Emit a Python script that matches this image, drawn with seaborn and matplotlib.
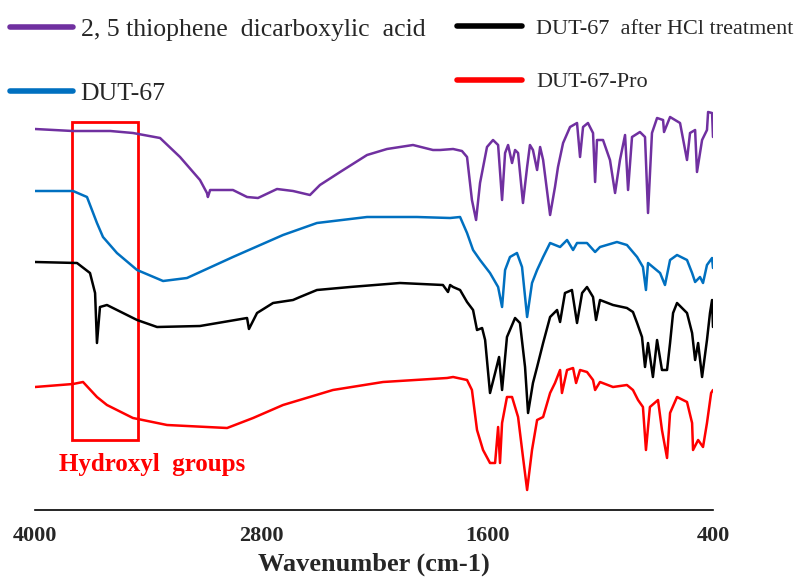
import matplotlib
matplotlib.use("Agg")
import matplotlib.pyplot as plt
from matplotlib.patches import Rectangle
import pandas as pd
import seaborn as sns

# FTIR spectra, wavenumber (cm-1) vs offset transmittance (a.u.)
thio_wn = [4000, 3900, 3800, 3600, 3480, 3336, 3230, 3124, 3087, 3082, 3070, 2949, 2874, 2816,
           2715, 2630, 2540, 2487, 2380, 2237, 2131, 1993, 1887, 1849, 1780, 1733, 1706, 1680,
           1658, 1637, 1600, 1568, 1541, 1520, 1504, 1488, 1467, 1451, 1435, 1409, 1387, 1372,
           1356, 1334, 1318, 1302, 1265, 1239, 1223, 1196, 1159, 1122, 1106, 1090, 1064, 1037,
           1026, 1016, 984, 947, 920, 894, 867, 851, 830, 788, 761, 745, 724, 697, 665, 660,
           628, 575, 538, 522, 495, 485, 458, 432, 426, 405, 400]
thio_t = [391, 390, 389, 389, 387, 382, 363, 340, 327, 323, 330, 330, 323, 322,
          331, 329, 325, 335, 348, 365, 371, 375, 370, 370, 371, 369, 363, 320,
          300, 337, 373, 380, 375, 320, 367, 375, 357, 370, 367, 317, 353, 375,
          370, 350, 373, 360, 305, 333, 353, 377, 393, 397, 363, 393, 397, 387,
          338, 380, 380, 360, 327, 360, 385, 330, 383, 388, 383, 307, 387, 402, 400, 388,
          403, 397, 360, 387, 390, 348, 380, 390, 408, 407, 383]

dut_wn = [4000, 3798, 3724, 3671, 3639, 3565, 3458, 3320, 3193, 2949, 2683, 2503, 2237, 1972,
          1796, 1743, 1706, 1674, 1637, 1584, 1541, 1520, 1504, 1478, 1441, 1414, 1387, 1361,
          1334, 1302, 1265, 1212, 1175, 1143, 1122, 1069, 1026, 1000, 910, 857, 803, 772, 756,
          745, 681, 655, 628, 591, 538, 511, 495, 469, 453, 432, 405, 400]
dut_t = [329, 329, 323, 297, 283, 267, 250, 239, 242, 263, 285, 297, 303, 303,
         302, 303, 287, 270, 260, 247, 233, 213, 250, 263, 267, 253, 203, 237,
         250, 263, 277, 273, 280, 270, 277, 277, 268, 273, 278, 275, 263, 253, 230,
         257, 247, 235, 260, 265, 260, 247, 238, 243, 237, 255, 262, 252]

hcl_wn = [4000, 3777, 3708, 3681, 3671, 3655, 3618, 3458, 3352, 3124, 2874, 2864, 2821, 2736,
          2630, 2593, 2503, 2327, 2062, 1834, 1807, 1796, 1780, 1743, 1706, 1674, 1653, 1626,
          1610, 1584, 1557, 1536, 1520, 1494, 1451, 1425, 1398, 1382, 1356, 1334, 1302, 1265,
          1228, 1212, 1186, 1149, 1122, 1095, 1069, 1037, 1021, 1000, 931, 857, 825, 803, 777,
          761, 745, 719, 697, 671, 644, 628, 612, 591, 538, 511, 495, 479, 458, 432, 416, 405, 400]
hcl_t = [258, 257, 247, 227, 177, 213, 215, 200, 193, 194, 202, 191, 207, 217,
         220, 223, 230, 233, 237, 235, 228, 235, 233, 230, 218, 210, 190, 192,
         180, 127, 147, 163, 130, 183, 202, 197, 153, 107, 137, 153, 177, 203,
         210, 198, 227, 230, 197, 227, 233, 223, 200, 220, 215, 212, 208, 197, 183,
         153, 177, 143, 180, 150, 150, 177, 207, 217, 207, 187, 160, 177, 143, 180, 207, 220, 193]

pro_wn = [4000, 3798, 3745, 3671, 3618, 3480, 3299, 2980, 2842, 2683, 2418, 2152, 1812, 1780,
          1706, 1680, 1653, 1621, 1584, 1557, 1541, 1531, 1520, 1494, 1467, 1435, 1409, 1387,
          1361, 1334, 1302, 1265, 1239, 1212, 1202, 1175, 1143, 1127, 1106, 1069, 1037, 1026,
          1000, 931, 857, 825, 798, 772, 756, 735, 692, 671, 644, 628, 591, 538, 511, 506,
          479, 453, 432, 410, 400]
pro_t = [133, 136, 138, 123, 115, 102, 95, 92, 102, 115, 130, 138, 142, 143,
         140, 130, 90, 70, 57, 57, 93, 57, 97, 123, 123, 103, 63, 30,
         70, 100, 103, 127, 137, 150, 127, 150, 152, 137, 150, 148, 140, 130,
         138, 133, 135, 130, 120, 113, 70, 113, 120, 90, 62, 107, 123, 118, 97, 70,
         80, 73, 97, 127, 130]

series = [
    ("2, 5 thiophene  dicarboxylic  acid", thio_wn, thio_t, "#7030A0"),
    ("DUT-67", dut_wn, dut_t, "#0070C0"),
    ("DUT-67  after HCl treatment", hcl_wn, hcl_t, "#000000"),
    ("DUT-67-Pro", pro_wn, pro_t, "#FF0000"),
]

sns.set_style("white")
plt.rcParams['font.family'] = ['Liberation Serif', 'DejaVu Serif']

fig = plt.figure(figsize=(7.96, 5.79), dpi=100)
ax = fig.add_axes([35 / 796, 1 - 510 / 579, 678 / 796, 510 / 579])

lines = {}
for name, wn, t, col in series:
    df = pd.DataFrame({"wn": wn, "t": t})
    sns.lineplot(data=df, x="wn", y="t", color=col, linewidth=1.8,
                 estimator=None, sort=False, ax=ax)
    lines[name] = ax.get_lines()[-1]

ax.set_xlim(4000, 400)
ax.set_ylim(10, 520)
ax.set_xticks([4000, 2800, 1600, 400])
ax.set_yticks([])
for s in ["top", "left", "right"]:
    ax.spines[s].set_visible(False)
ax.spines["bottom"].set_color("black")
ax.spines["bottom"].set_linewidth(1.2)
ax.tick_params(axis="x", direction="out", length=5, width=1.2, color="black",
               labelsize=16, pad=6.5)
for lab in ax.get_xticklabels():
    lab.set_fontweight("bold")
ax.set_xlabel("Wavenumber (cm-1)", fontsize=19, fontweight="bold", labelpad=5)
ax.set_ylabel("")

# hydroxyl region box
ax.add_patch(Rectangle((3804, 80), 3453 - 3804, 318, fill=False,
                       edgecolor="#FF0000", linewidth=2))
ax.text(3379, 55, "Hydroxyl  groups", color="#FF0000", fontsize=18,
        fontweight="bold", ha="center", va="center")

names = [s[0] for s in series]
leg1 = fig.legend([lines[n] for n in names[:2]], names[:2], loc="upper left",
                  bbox_to_anchor=(10 / 796, 1 - 18 / 579), frameon=False, fontsize=18.5,
                  handlelength=2.45, handletextpad=0.3, labelspacing=1.58,
                  borderpad=0, borderaxespad=0)
leg2 = fig.legend([lines[n] for n in names[2:]], names[2:], loc="upper left",
                  bbox_to_anchor=(457 / 796, 1 - 18 / 579), frameon=False, fontsize=16,
                  handlelength=2.93, handletextpad=0.62, labelspacing=1.5,
                  borderpad=0, borderaxespad=0)
for leg in (leg1, leg2):
    for ln in leg.get_lines():
        ln.set_linewidth(4)

fig.savefig("out.png", dpi=100)
